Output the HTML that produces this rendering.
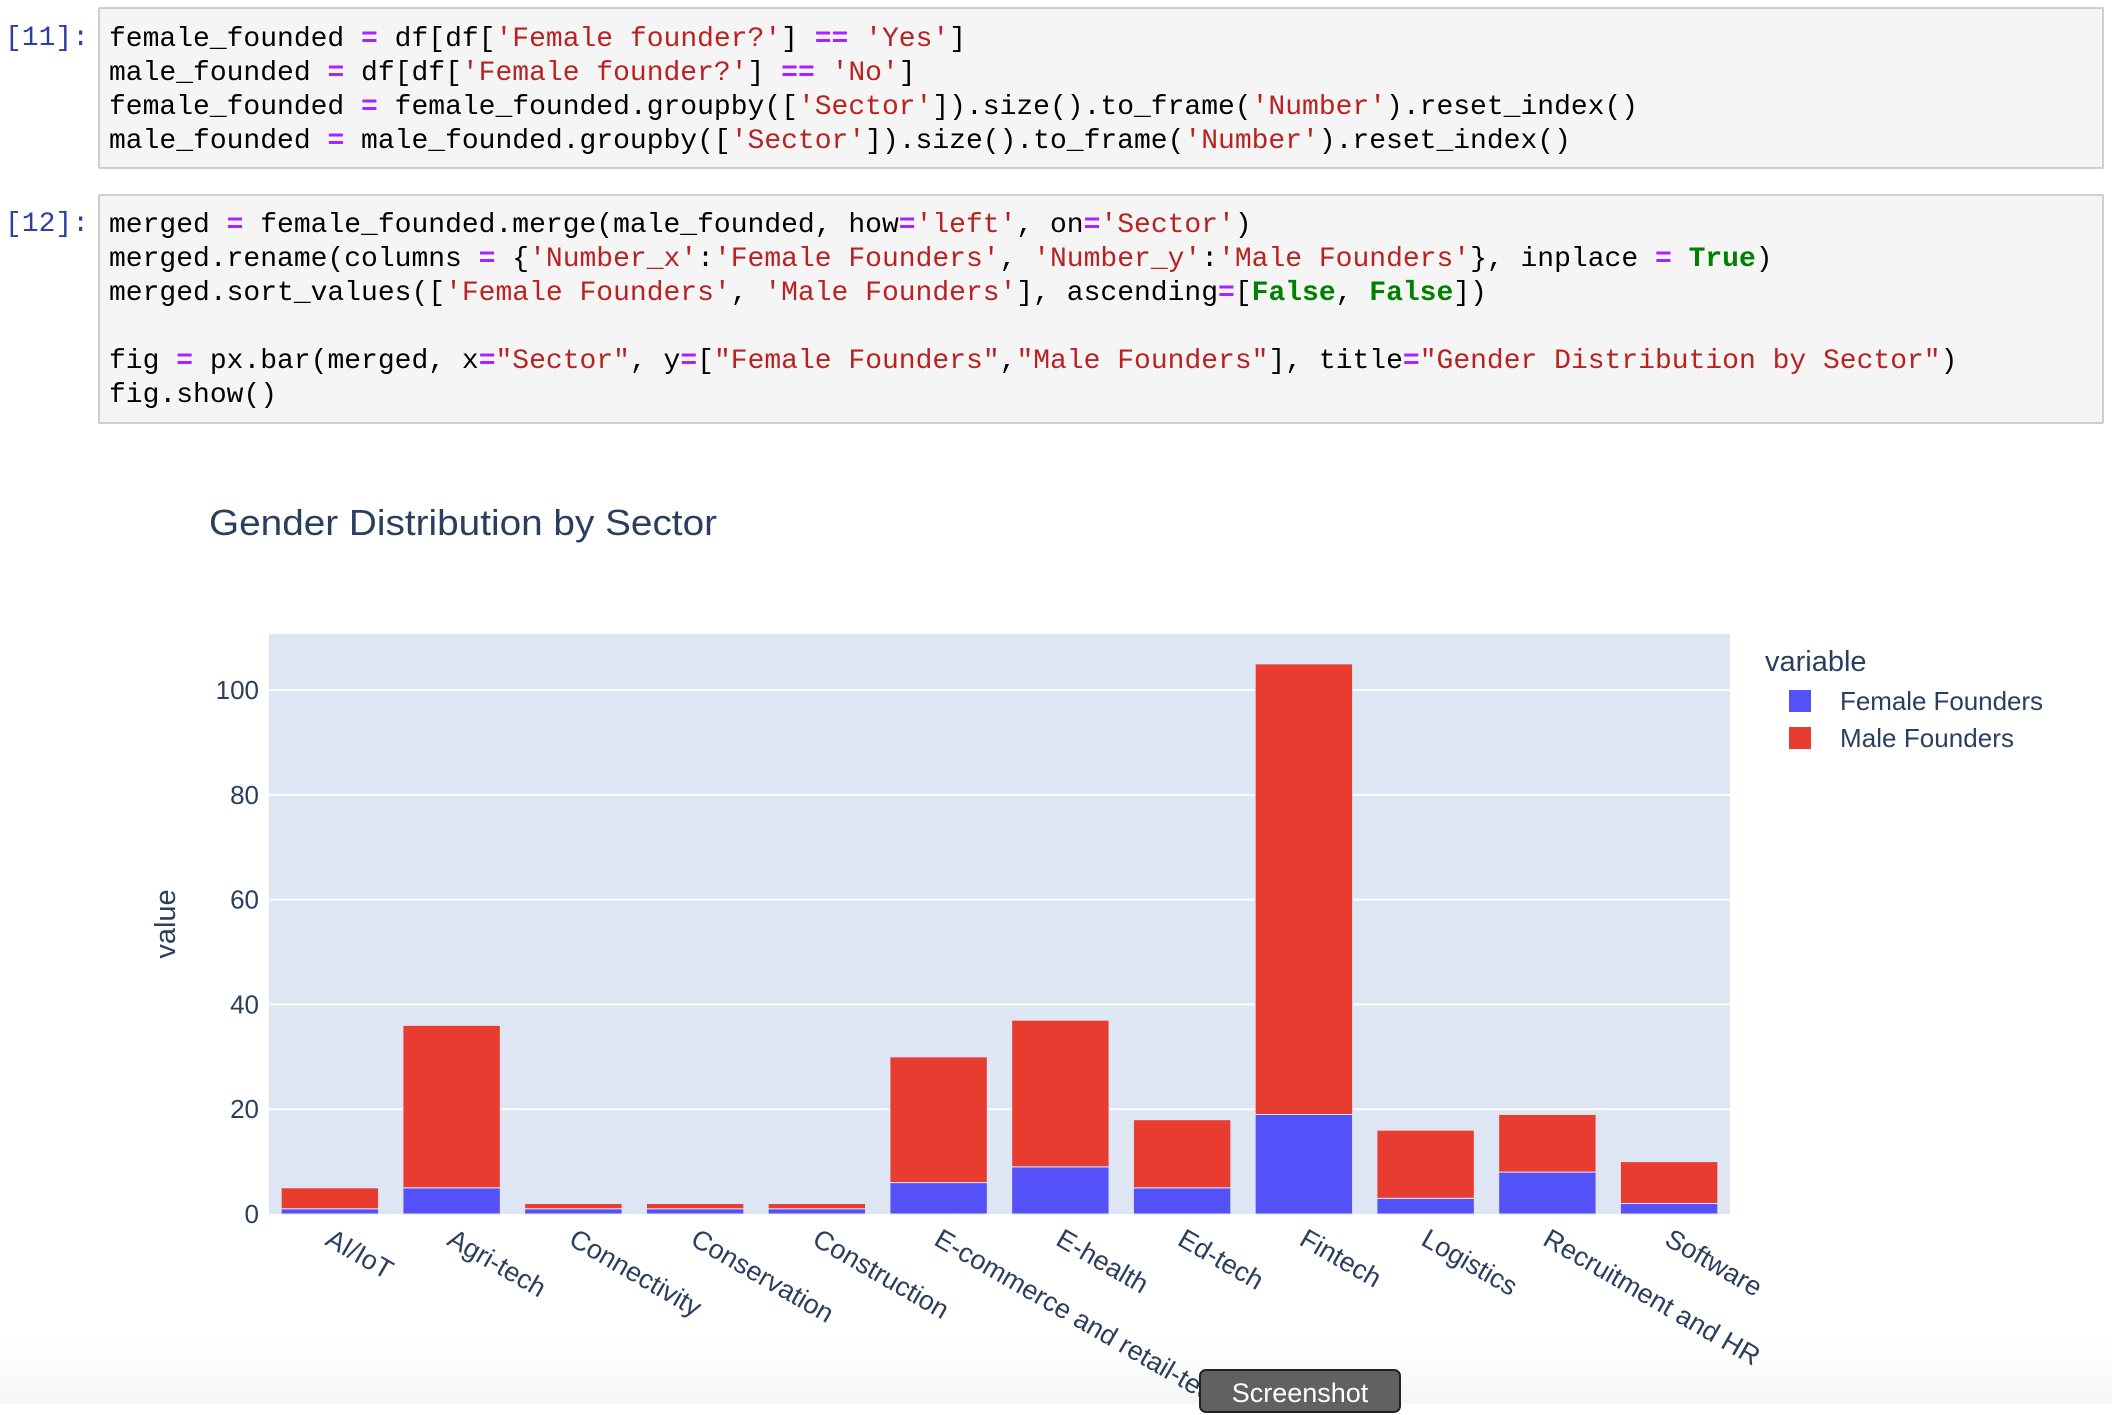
<!DOCTYPE html>
<html><head><meta charset="utf-8">
<style>
body{margin:0;width:2112px;height:1404px;background:#fff;position:relative;overflow:hidden;font-family:"Liberation Sans",sans-serif}
.cell{position:absolute;left:98px;width:2006px;background:#f5f5f5;border:2px solid #cfcfcf;box-sizing:border-box;border-radius:2px}
.prompt{position:absolute;left:5px;font:28px "Liberation Mono",monospace;color:#303f9f}
.code{position:absolute;left:109px;font:28px/34px "Liberation Mono",monospace;color:#000;white-space:pre}
.o{color:#aa22ff;font-weight:bold}.s{color:#ba2121}.k{color:#008000;font-weight:bold}
.fade{position:absolute;left:0;top:1340px;width:2112px;height:64px;background:linear-gradient(#fff,#f6f6f6)}
.btn{position:absolute;left:1199px;top:1369px;width:202px;height:44px;background:#616161;border:2px solid #222;border-radius:7px;color:#fff;font-size:27px;text-align:center;line-height:44px;box-sizing:border-box}
</style></head><body>
<div class="fade"></div>
<div class="cell" style="top:7px;height:162px"></div>
<div class="prompt" style="top:23px">[11]:</div>
<div class="code" style="top:23px">female_founded <span class="o">=</span> df[df[<span class="s">'Female founder?'</span>] <span class="o">==</span> <span class="s">'Yes'</span>]
male_founded <span class="o">=</span> df[df[<span class="s">'Female founder?'</span>] <span class="o">==</span> <span class="s">'No'</span>]
female_founded <span class="o">=</span> female_founded.groupby([<span class="s">'Sector'</span>]).size().to_frame(<span class="s">'Number'</span>).reset_index()
male_founded <span class="o">=</span> male_founded.groupby([<span class="s">'Sector'</span>]).size().to_frame(<span class="s">'Number'</span>).reset_index()</div>
<div class="cell" style="top:194px;height:230px"></div>
<div class="prompt" style="top:209px">[12]:</div>
<div class="code" style="top:209px">merged <span class="o">=</span> female_founded.merge(male_founded, how<span class="o">=</span><span class="s">'left'</span>, on<span class="o">=</span><span class="s">'Sector'</span>)
merged.rename(columns <span class="o">=</span> {<span class="s">'Number_x'</span>:<span class="s">'Female Founders'</span>, <span class="s">'Number_y'</span>:<span class="s">'Male Founders'</span>}, inplace <span class="o">=</span> <span class="k">True</span>)
merged.sort_values([<span class="s">'Female Founders'</span>, <span class="s">'Male Founders'</span>], ascending<span class="o">=</span>[<span class="k">False</span>, <span class="k">False</span>])

fig <span class="o">=</span> px.bar(merged, x<span class="o">=</span><span class="s">"Sector"</span>, y<span class="o">=</span>[<span class="s">"Female Founders"</span>,<span class="s">"Male Founders"</span>], title<span class="o">=</span><span class="s">"Gender Distribution by Sector"</span>)
fig.show()</div>
<svg id="chart" width="2112" height="1404" style="position:absolute;left:0;top:0">
<text x="209" y="535" font-size="36" textLength="508" lengthAdjust="spacingAndGlyphs" fill="#2a3f5f">Gender Distribution by Sector</text>
<rect x="269" y="634" width="1461" height="580" fill="#dfe6f3"/>
<g id="grid"></g><g id="bars"></g><g id="xlabels"></g>
<text transform="translate(175,924) rotate(-90)" text-anchor="middle" font-size="29" fill="#2a3f5f">value</text>
<text x="1765" y="671" font-size="29" fill="#2a3f5f">variable</text>
<rect x="1789" y="690" width="22" height="22" fill="#5551f8"/>
<text x="1840" y="710" font-size="26" textLength="203" fill="#2a3f5f">Female Founders</text>
<rect x="1789" y="727" width="22" height="22" fill="#e73c2f"/>
<text x="1840" y="747" font-size="26" textLength="174" fill="#2a3f5f">Male Founders</text>
</svg>
<div class="btn">Screenshot</div>
<script>
const categories=["AI/IoT","Agri-tech","Connectivity","Conservation","Construction","E-commerce and retail-tech","E-health","Ed-tech","Fintech","Logistics","Recruitment and HR","Software"];
const femaleValues=[1,5,1,1,1,6,9,5,19,3,8,2];
const maleValues=[4,31,1,1,1,24,28,13,86,13,11,8];
const yTicks=[0,20,40,60,80,100];
const NS="http://www.w3.org/2000/svg";
const L=269,R=1730,Y0=1214,YTOP=634,YMAX=110.7;
function y(v){return Y0-v*(Y0-YTOP)/YMAX;}
const step=(R-L)/categories.length;
function xc(i){return L+step*(i+0.5);}
function mk(tag,attrs,parent){const e=document.createElementNS(NS,tag);for(const k in attrs)e.setAttribute(k,attrs[k]);parent.appendChild(e);return e;}
const grid=document.getElementById('grid'),bars=document.getElementById('bars'),xl=document.getElementById('xlabels');
yTicks.forEach(t=>{
  if(t>0){const g=mk('line',{x1:L,x2:R,y1:y(t),y2:y(t),stroke:'#fff','stroke-width':2},grid);
  
  }
  const tx=mk('text',{x:L-10,y:y(t)+9,'text-anchor':'end','font-size':26,fill:'#2a3f5f'},grid);
  tx.textContent=t;
  
  
});
const bw=step*0.8;
categories.forEach((c,i)=>{
  const x=xc(i)-bw/2;
  const f=mk('rect',{x:x,y:y(femaleValues[i]),width:bw,height:Y0-y(femaleValues[i]),fill:'#5551f8',stroke:'#dfe6f3','stroke-width':1},bars);
  
  
  const tot=femaleValues[i]+maleValues[i];
  const m=mk('rect',{x:x,y:y(tot),width:bw,height:y(femaleValues[i])-y(tot),fill:'#e73c2f',stroke:'#dfe6f3','stroke-width':1},bars);
  
  
  const t=mk('text',{transform:'translate('+(xc(i)-6)+','+(Y0+30)+') rotate(30)','font-size':27,fill:'#2a3f5f'},xl);
  t.textContent=c;
  
  
});
</script>
</body></html>
